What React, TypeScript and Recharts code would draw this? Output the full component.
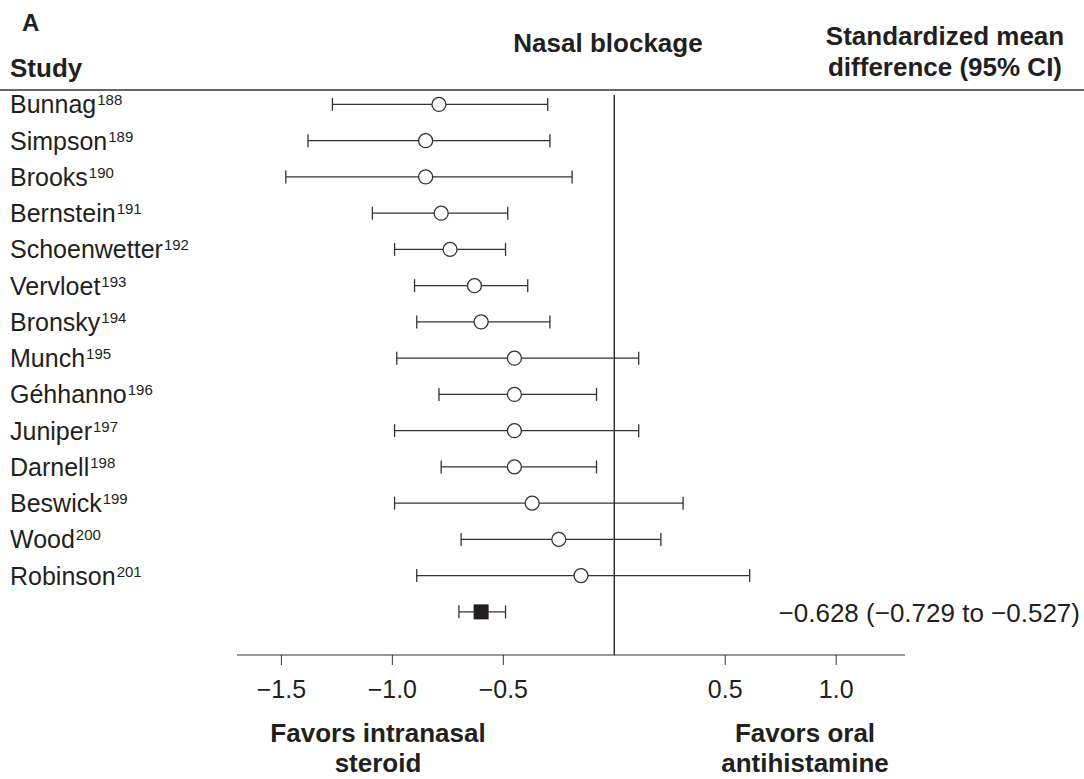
import React from 'react';
import { ScatterChart, Scatter, XAxis, YAxis, ErrorBar, ReferenceLine } from 'recharts';

const FONT = '"Liberation Sans", Arial, Helvetica, sans-serif';
const INK = '#231f20';
const LINE = '#333333';

// studies, top to bottom
const studies = ['Bunnag', 'Simpson', 'Brooks', 'Bernstein', 'Schoenwetter', 'Vervloet', 'Bronsky', 'Munch', 'Géhhanno', 'Juniper', 'Darnell', 'Beswick', 'Wood', 'Robinson'];
const refs = ['188', '189', '190', '191', '192', '193', '194', '195', '196', '197', '198', '199', '200', '201'];
const lower = [-1.27, -1.38, -1.48, -1.09, -0.99, -0.9, -0.89, -0.98, -0.79, -0.99, -0.78, -0.99, -0.69, -0.89];
const estimate = [-0.79, -0.85, -0.85, -0.78, -0.74, -0.63, -0.6, -0.45, -0.45, -0.45, -0.45, -0.37, -0.25, -0.15];
const upper = [-0.3, -0.29, -0.19, -0.48, -0.49, -0.39, -0.29, 0.11, -0.08, 0.11, -0.08, 0.31, 0.21, 0.61];

// pooled estimate
const pooledLower = -0.7;
const pooledEstimate = -0.6;
const pooledUpper = -0.49;
const pooledLabel = '−0.628 (−0.729 to −0.527)';

const xTicks = [-1.5, -1.0, -0.5, 0.5, 1.0];

const studyData = studies.map((name, i) => ({
  row: i,
  name,
  smd: estimate[i],
  ci: [estimate[i] - lower[i], upper[i] - estimate[i]],
}));

const pooledData = [
  { row: studies.length, smd: pooledEstimate, ci: [pooledEstimate - pooledLower, pooledUpper - pooledEstimate] },
];

const fmt = (v: number) => (v < 0 ? '−' : '') + Math.abs(v).toFixed(1);

const StudyTick = ({ y, payload }: any) => {
  const i = payload.value;
  return (
    <text x={10} y={y} dy={9} fontSize={25} fill={INK} fontFamily={FONT}>
      {studies[i]}
      <tspan fontSize={15} dx={1} dy={-8}>{refs[i]}</tspan>
    </text>
  );
};

const Circle = (p: any) => (
  <circle cx={p.cx} cy={p.cy} r={7} fill="#fff" stroke={LINE} strokeWidth={1.3} />
);

const Square = (p: any) => (
  <rect x={p.cx - 7.5} y={p.cy - 7.5} width={15} height={15} fill={INK} />
);

const App = () => {
  return (
    <div style={{ position: 'absolute', left: 0, top: 0, width: 1084, height: 779, background: '#fff' }}>
      <ScatterChart width={1084} height={779} margin={{ top: 95, right: 179, bottom: 64, left: 10 }}>
        <XAxis
          dataKey="smd"
          type="number"
          domain={[-1.7, 1.31]}
          allowDataOverflow
          ticks={xTicks}
          tickFormatter={fmt}
          tickSize={10}
          tickMargin={15}
          height={60}
          stroke={LINE}
          tick={{ fontSize: 25, fill: INK, fontFamily: FONT }}
        />
        <YAxis
          dataKey="row"
          type="number"
          domain={[-0.26, 15.19]}
          allowDataOverflow
          reversed
          ticks={studies.map((_, i) => i)}
          interval={0}
          width={227}
          axisLine={false}
          tickLine={false}
          tick={<StudyTick />}
        />
        <ReferenceLine x={0} stroke={LINE} strokeWidth={1.5} />
        <Scatter data={studyData} shape={<Circle />} isAnimationActive={false}>
          <ErrorBar dataKey="ci" direction="x" width={6.5} stroke={LINE} strokeWidth={1.3} />
        </Scatter>
        <Scatter data={pooledData} shape={<Square />} isAnimationActive={false}>
          <ErrorBar dataKey="ci" direction="x" width={6.5} stroke={LINE} strokeWidth={1.3} />
        </Scatter>
      </ScatterChart>
      <svg
        width={1084}
        height={779}
        style={{ position: 'absolute', left: 0, top: 0, pointerEvents: 'none' }}
        fontFamily={FONT}
        fill={INK}
      >
        <text x={22} y={31} fontSize={24} fontWeight="bold">A</text>
        <text x={10} y={77} fontSize={26} fontWeight="bold">Study</text>
        <text x={608} y={52} fontSize={26} fontWeight="bold" textAnchor="middle">Nasal blockage</text>
        <text x={945} y={45} fontSize={26} fontWeight="bold" textAnchor="middle">Standardized mean</text>
        <text x={945} y={76} fontSize={26} fontWeight="bold" textAnchor="middle">difference (95% CI)</text>
        <line x1={0} x2={1084} y1={90} y2={90} stroke={LINE} strokeWidth={1.5} />
        <text x={1080} y={622} fontSize={26} textAnchor="end">{pooledLabel}</text>
        <text x={378} y={742} fontSize={26} fontWeight="bold" textAnchor="middle">Favors intranasal</text>
        <text x={378} y={772} fontSize={26} fontWeight="bold" textAnchor="middle">steroid</text>
        <text x={805} y={742} fontSize={26} fontWeight="bold" textAnchor="middle">Favors oral</text>
        <text x={805} y={772} fontSize={26} fontWeight="bold" textAnchor="middle">antihistamine</text>
      </svg>
    </div>
  );
};

export default App;
